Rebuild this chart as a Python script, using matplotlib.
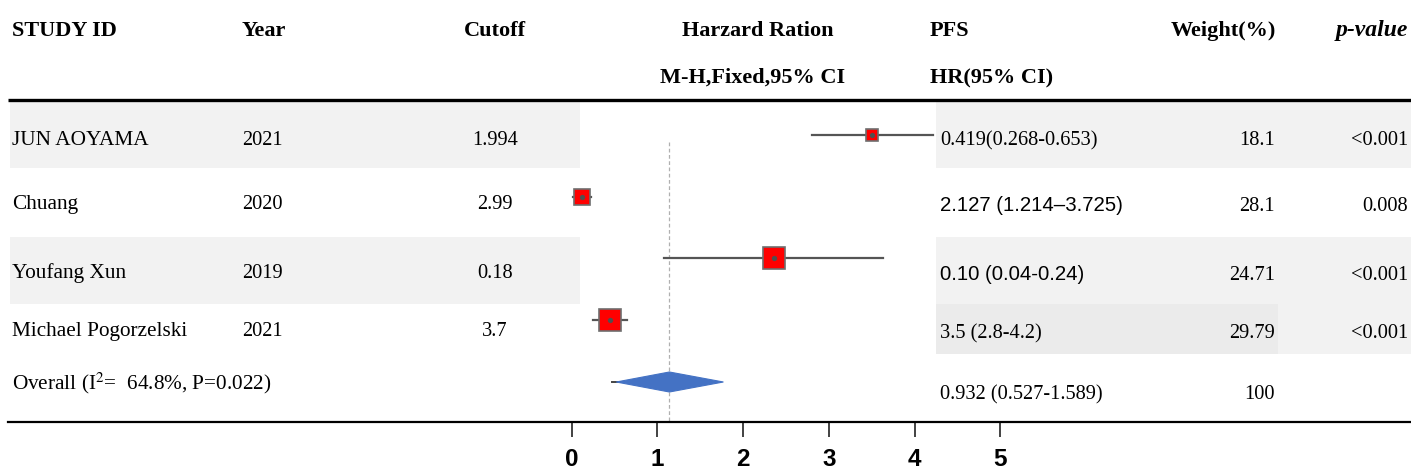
import matplotlib
matplotlib.use("Agg")
import matplotlib.pyplot as plt
from matplotlib.patches import Rectangle, Polygon

plt.rcParams['mathtext.fontset'] = 'stix'

# table columns
studies = ['JUN AOYAMA', 'Chuang', 'Youfang Xun', 'Michael Pogorzelski']
years = ['2021', '2020', '2019', '2021']
cutoffs = ['1.994', '2.99', '0.18', '3.7']
hr_text = ['0.419(0.268-0.653)', '2.127 (1.214\u20133.725)', '0.10 (0.04-0.24)', '3.5 (2.8-4.2)']
weights = ['18.1', '28.1', '24.71', '29.79']
pvals = ['<0.001', '0.008', '<0.001', '<0.001']
overall_label = 'Overall (I$^{2}$=  64.8%, P=0.022)'
overall_hr_text = '0.932 (0.527-1.589)'
overall_weight = '100'

# plotted estimates, as drawn in the forest panel
hr = [3.50, 0.12, 2.36, 0.45]
ci_lo = [2.80, 0.02, 1.08, 0.25]
ci_hi = [4.22, 0.23, 3.63, 0.65]
pooled = 1.14
pooled_lo = 0.47
pooled_hi = 1.77
ref_line = 1.14
xticks = [0, 1, 2, 3, 4, 5]

# layout (pixels)
W, H = 1411, 471
mark_y = [135, 197, 258, 320, 382]
left_base = [145, 209, 278, 336, 389]
right_base = [145, 211, 280, 338, 399]
box_pt = [9, 11.5, 16.5, 16.5]
sans_rows = [1, 2]

SERIF = 'Liberation Serif'
SANS = 'Liberation Sans'

fig = plt.figure(figsize=(W / 100, H / 100), dpi=100)

tab = fig.add_axes([0, 0, 1, 1])
tab.set_xlim(0, W)
tab.set_ylim(H, 0)
tab.axis('off')

# row shading
light = '#f2f2f2'
dark = '#ebebeb'
for (x0, x1, y0, y1, c) in [(10, 580, 102, 168, light), (936, W, 102, 168, light),
                            (10, 580, 237, 304, light), (936, W, 237, 304, light),
                            (936, 1278, 304, 354, dark), (1278, W, 304, 354, light)]:
    tab.add_patch(Rectangle((x0, y0), x1 - x0, y1 - y0, color=c, lw=0, zorder=0))

# header
hdr = dict(family=SERIF, fontsize=16, fontweight='bold', va='baseline')
tab.text(12, 36, 'STUDY ID', ha='left', **hdr)
tab.text(242, 36, 'Year', ha='left', **hdr)
tab.text(495, 36, 'Cutoff', ha='center', **hdr)
tab.text(758, 36, 'Harzard Ration', ha='center', **hdr)
tab.text(930, 36, 'PFS', ha='left', **hdr)
tab.text(1276, 36, 'Weight(%)', ha='right', **hdr)
tab.text(1408, 36, 'p-value', ha='right', style='italic', family=SERIF, fontsize=17,
         fontweight='bold', va='baseline')
tab.text(753, 83, 'M-H,Fixed,95% CI', ha='center', **hdr)
tab.text(930, 83, 'HR(95% CI)', ha='left', **hdr)

# top rule
tab.plot([8, W], [100, 100], color='black', lw=2.4, solid_capstyle='butt')

name = dict(fontsize=15.3, va='baseline', family=SERIF)
cell = dict(fontsize=14.7, va='baseline')
for i in range(len(studies)):
    tab.text(12, left_base[i], studies[i], ha='left', **name)
    tab.text(242, left_base[i], years[i], family=SERIF, ha='left', **cell)
    tab.text(495, left_base[i], cutoffs[i], family=SERIF, ha='center', **cell)
    fam = SANS if i in sans_rows else SERIF
    tab.text(940, right_base[i], hr_text[i], family=fam, ha='left', **cell)
    tab.text(1275, right_base[i], weights[i], family=SERIF, ha='right', **cell)
    tab.text(1408, right_base[i], pvals[i], family=SERIF, ha='right', **cell)

tab.text(12, left_base[4], overall_label, ha='left', **name)
tab.text(940, right_base[4], overall_hr_text, family=SERIF, ha='left', **cell)
tab.text(1275, right_base[4], overall_weight, family=SERIF, ha='right', **cell)

# forest panel: 0 at x=571.7 px, 85.7 px per unit, bottom spine at y=422 px
x_zero, unit = 571.7, 85.7
axis_y = 422
ax = fig.add_axes([0, (H - axis_y) / H, 1, axis_y / H])
ax.set_xlim(-x_zero / unit, (W - x_zero) / unit)
ax.set_ylim(axis_y, 0)
ax.patch.set_alpha(0)
for s in ['top', 'left', 'right']:
    ax.spines[s].set_visible(False)
ax.spines['bottom'].set_linewidth(1.6)
ax.spines['bottom'].set_bounds((8 - x_zero) / unit, (W - x_zero) / unit)
ax.set_yticks([])
ax.set_xticks(xticks)
ax.tick_params(axis='x', direction='out', length=10.5, width=1.2, color='#222222', pad=8,
               labelsize=17.5)
for lab in ax.get_xticklabels():
    lab.set_fontfamily(SANS)
    lab.set_fontweight('bold')

ax.vlines(ref_line, 142, axis_y, colors='#b0b0b0', linestyles=(0, (3, 2)), lw=0.9, zorder=1)

for i in range(len(hr)):
    y = mark_y[i]
    ax.plot([ci_lo[i], ci_hi[i]], [y, y], color='#555555', lw=1.6, zorder=2)
    ax.plot(hr[i], y, marker='s', ms=box_pt[i], mfc='#ff0000', mec='#6e6e6e', mew=1.2,
            linestyle='none', zorder=3)
    ax.plot(hr[i], y, marker='o', ms=3.8, mfc='#505050', mec='none', linestyle='none', zorder=4)

yd = mark_y[4]
ax.plot([pooled_lo, pooled_lo + 0.1], [yd, yd], color='#444444', lw=1.4, zorder=2)
ax.add_patch(Polygon([[pooled_lo + 0.05, yd], [pooled, yd - 10], [pooled_hi, yd], [pooled, yd + 10]],
                     closed=True, facecolor='#4472c4', edgecolor='#4472c4', lw=0.8, zorder=3))

fig.savefig('out.png', dpi=100)
